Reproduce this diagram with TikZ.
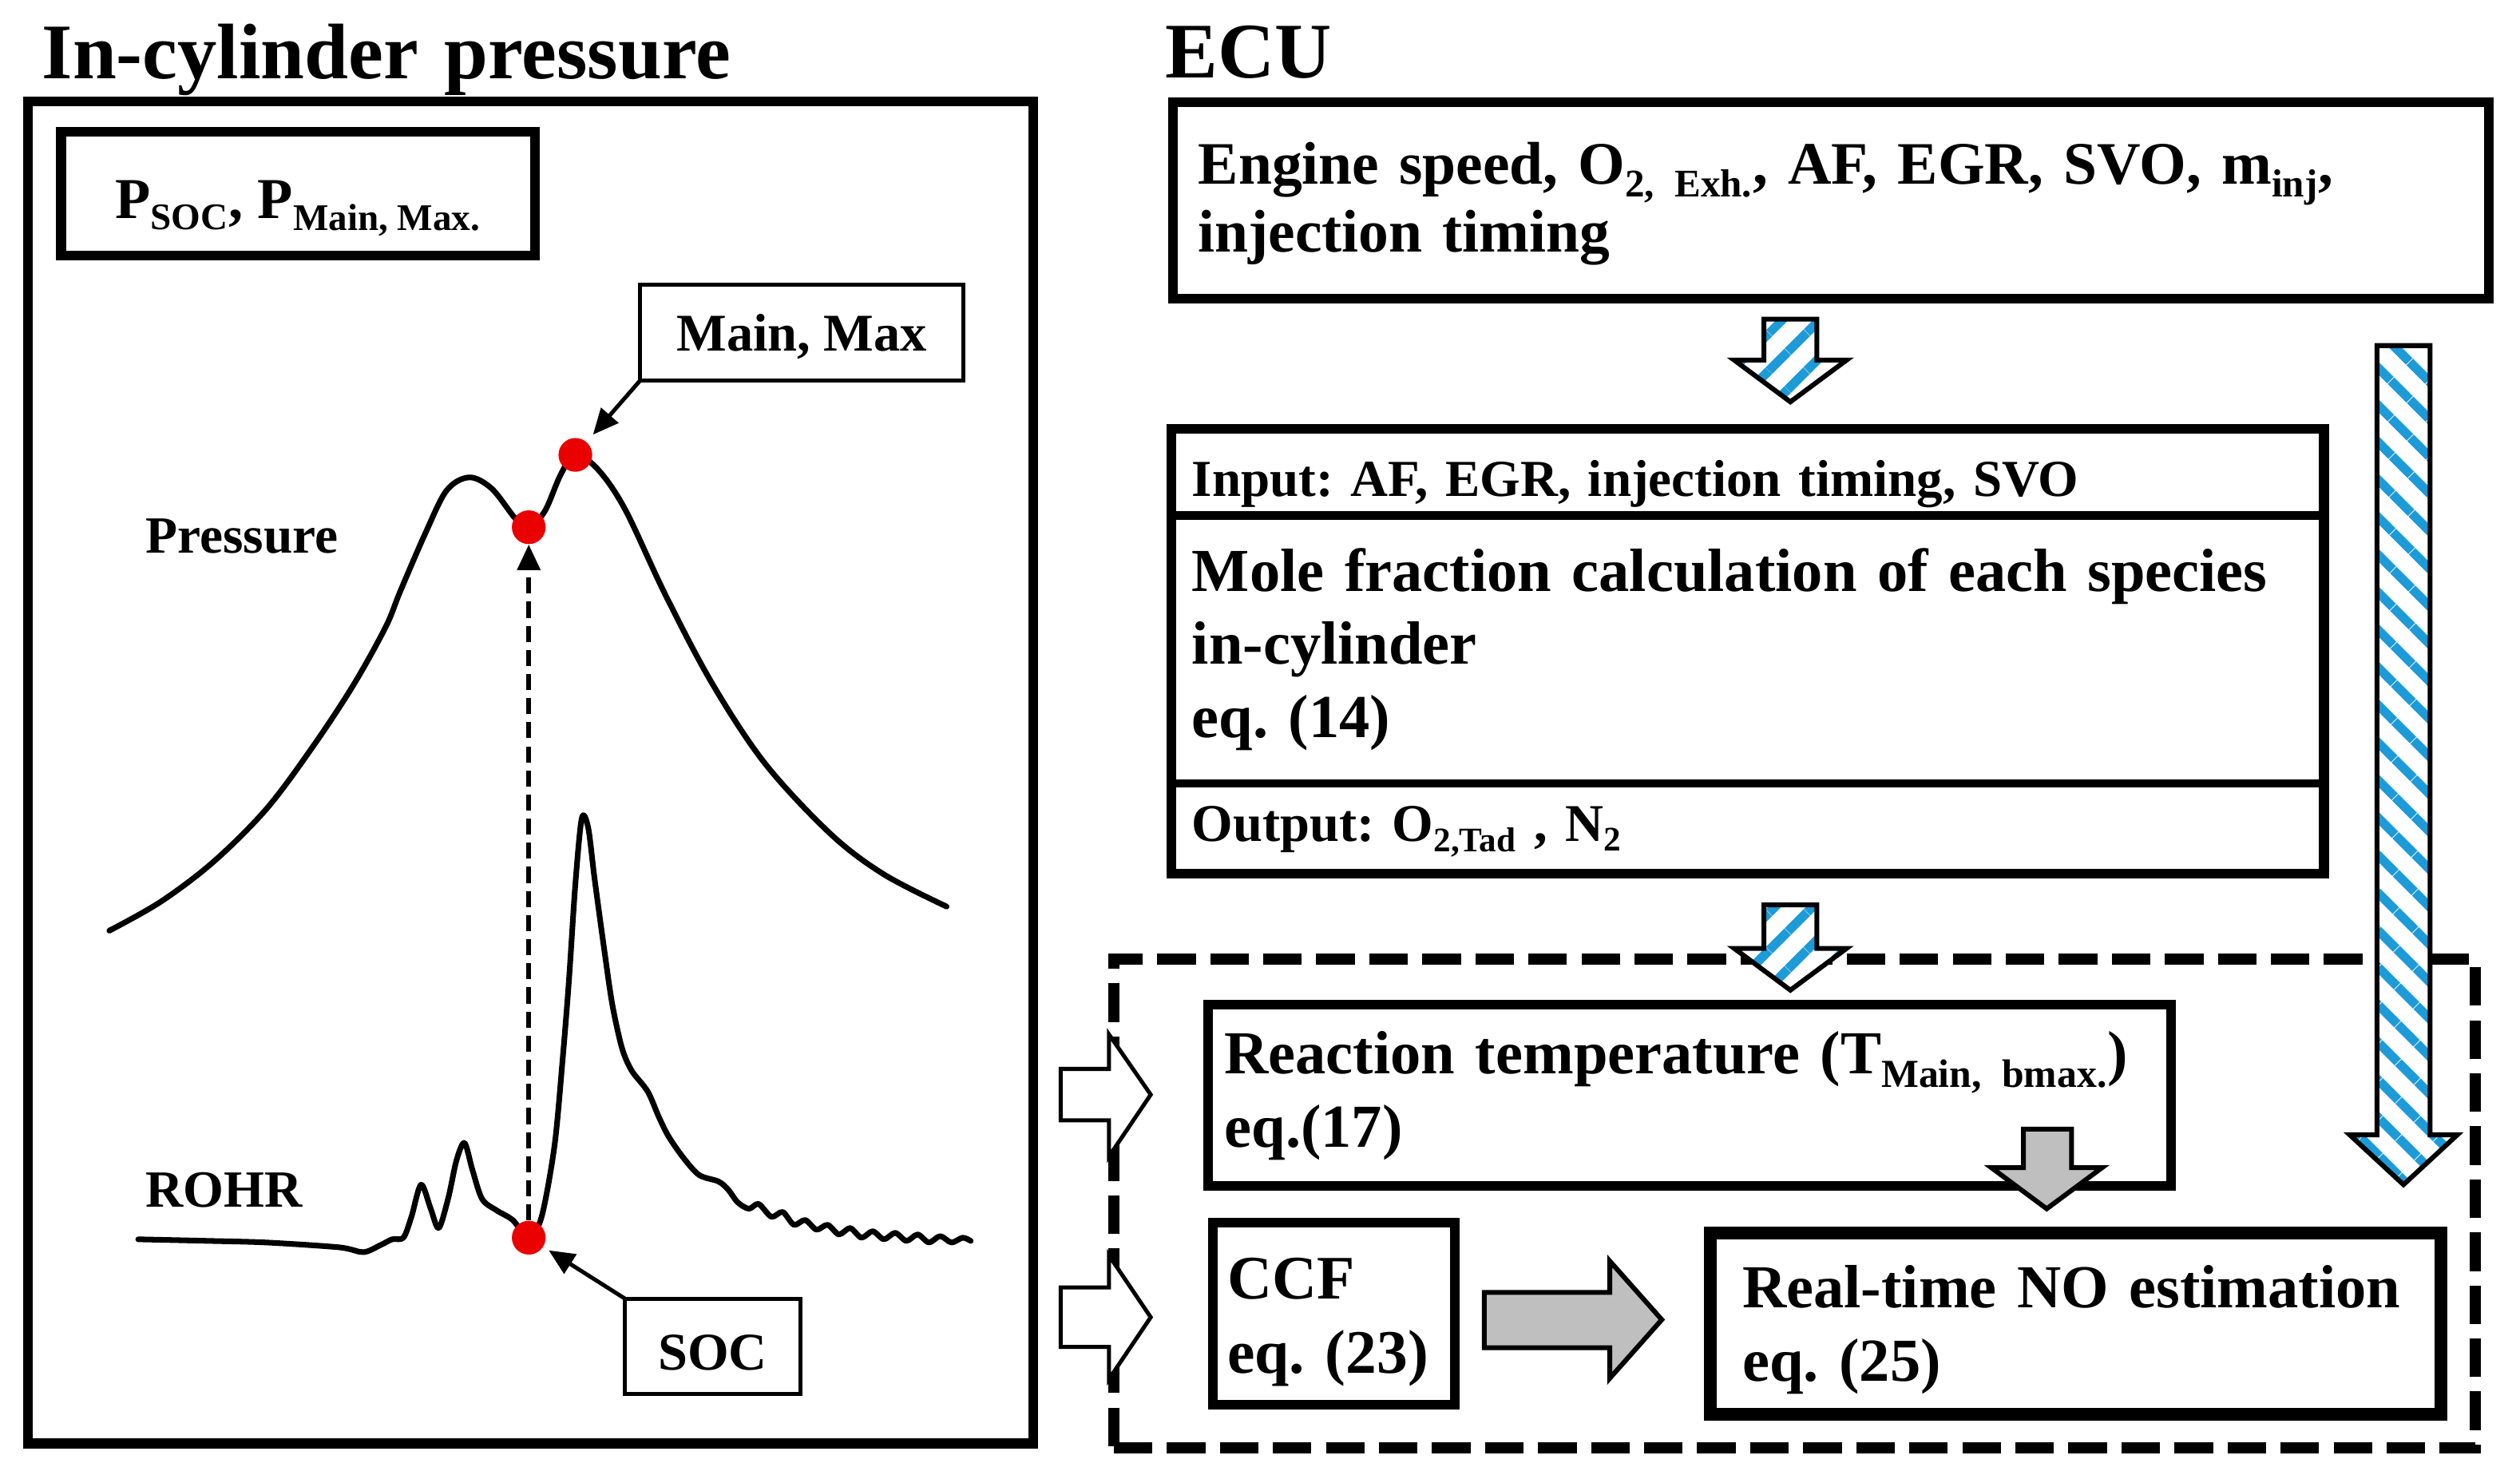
\documentclass[tikz,border=0pt]{standalone}
\usepackage{fontspec}
\setmainfont{Liberation Serif}
\usetikzlibrary{arrows.meta,patterns.meta,fit}
\definecolor{stripeblue}{RGB}{29,155,216}
\definecolor{arrowgrey}{RGB}{191,191,191}
\definecolor{dotred}{RGB}{235,0,0}
\renewcommand\defaultscriptratio{.65}
\frenchspacing

\begin{document}
\begin{tikzpicture}[x=1pt,y=-1pt,
    box/.style={draw,line width=6pt,inner sep=0pt,outer sep=0pt,anchor=north west},
    tagbox/.style={draw,line width=2.5pt,inner sep=0pt,outer sep=0pt,anchor=north west},
    txt/.style={anchor=base west,inner sep=0pt,text width=820pt,align=left},
    curve/.style={line width=3.5pt,line join=round,line cap=round},
    dot/.style={circle,fill=dotred,inner sep=0pt,minimum size=21pt},
    pointer/.style={line width=2.5pt,-{Triangle[length=16pt,width=14pt]}},
    stripearrow/.style={draw,line width=3pt,preaction={fill=white},
      pattern={Lines[angle=#1,distance=17pt,line width=6pt]},pattern color=stripeblue},
    greyarrow/.style={draw,line width=3pt,fill=arrowgrey},
    openarrow/.style={draw,line width=2.5pt,fill=white}]
  \useasboundingbox (0,0) rectangle (1568,920);

  % titles
  \node[txt,font=\fontsize{49}{55}\selectfont\bfseries] (cyltitle) at (26,49) {In-cylinder pressure};
  \node[txt,font=\fontsize{49}{55}\selectfont\bfseries] (ecutitle) at (725,48.5) {ECU};

  % left panel
  \node[box,minimum width=625.6pt,minimum height=834.7pt] (panel) at (17.4,63.3) {};
  \node[box,minimum width=295pt,minimum height=77pt,text height=30.6pt,text depth=0pt,
        font=\fontsize{36}{40}\selectfont\bfseries] (pbox) at (38,82)
        {P\textsubscript{SOC}, P\textsubscript{Main, Max.}};
  \node[tagbox,minimum width=201pt,minimum height=59.6pt,text height=23.2pt,text depth=0pt,
        font=\fontsize{33}{38}\selectfont\bfseries] (mainbox) at (398.4,177) {Main, Max};
  \node[tagbox,minimum width=109pt,minimum height=59pt,text height=29.6pt,text depth=0pt,
        font=\fontsize{33}{38}\selectfont\bfseries] (socbox) at (389,808) {SOC};
  \node[txt,font=\fontsize{32.5}{38}\selectfont\bfseries] (preslbl) at (90.5,344.3) {Pressure};
  \node[txt,font=\fontsize{32.5}{38}\selectfont\bfseries] (rohrlbl) at (90.5,751) {ROHR};

  % pressure and heat release traces
  \draw[curve] plot[smooth,tension=0.55] coordinates {(68,579) (100,561) (133,536)
    (166,503) (195,464) (220,426) (240,390) (249,368) (265,331) (278,305) (292,297)
    (306,304) (321,323) (329,328) (339,318) (349,295) (358,283) (372,292) (389,317)
    (414,370) (443,425) (476,475) (517,519) (550,544) (589,564)};
  \draw[curve] plot[smooth,tension=0.5] coordinates {(86,771) (130,772) (166,773)
    (211,776) (226,779) (236,775) (244,771) (251,770) (256,757) (262,737) (268,752)
    (273,764) (279,745) (284,722) (289,711) (294,728) (300,746) (309,753) (319,759)
    (329,770) (337,757) (345,713) (350,660) (354,610) (358,550) (362,509) (366,515)
    (370,547) (376,591) (381,625) (387,652) (393,666) (403,679) (410,695) (416,707)
    (425,720) (435,731) (447,735) (453,740) (459,748) (466,752) (472,749) (480,757)
    (487,754) (494,762) (501,759) (508,765) (515,762) (522,768) (529,764) (536,770)
    (543,766) (550,771) (557,767) (564,772) (571,768) (578,773) (585,769) (592,773)
    (599,770) (604,772)};

  \node[dot] (pmax) at (358,283) {};
  \node[dot] (psoc) at (329,328) {};
  \node[dot] (soc) at (329,770) {};
  \draw[pointer,shorten >=6pt] (mainbox.south west) -- (pmax);
  \draw[pointer,shorten >=4pt] (socbox.north west) -- (soc);
  \draw[pointer,line width=3pt,dash pattern=on 10pt off 5pt] (soc) -- (psoc);

  % ECU side
  \node[box,minimum width=818.6pt,minimum height=122.5pt] (ecubox) at (730,63.5) {};
  \node[txt,font=\fontsize{37.5}{42.7}\selectfont\bfseries] (ecutext) at (745.4,114.3)
    {Engine speed, O\textsubscript{2, Exh.}, AF, EGR, SVO, m\textsubscript{inj},\\injection timing};

  \node[box,line width=5pt,minimum width=717pt,minimum height=53.7pt] (molein) at (729,267) {};
  \node[box,line width=5pt,minimum width=717pt,minimum height=166.9pt] (molecalc) at (729,320.7) {};
  \node[box,line width=5pt,minimum width=717pt,minimum height=55.9pt] (moleout) at (729,487.6) {};
  \node[box,anchor=center,fit=(molein)(moleout)] (mole) {};
  \node[txt,font=\fontsize{32.3}{38}\selectfont\bfseries] (intext) at (741.5,308.7)
    {Input: AF, EGR, injection timing, SVO};
  \node[txt,font=\fontsize{38}{45.6}\selectfont\bfseries] (calctext) at (741.5,367.7)
    {Mole fraction calculation of each species\\in-cylinder\\eq. (14)};
  \node[txt,font=\fontsize{33}{38}\selectfont\bfseries] (outtext) at (741.5,523.5)
    {Output: O\textsubscript{2,Tad} , N\textsubscript{2}};

  \node[box,line width=7pt,dash pattern=on 24pt off 9pt,minimum width=847pt,
        minimum height=304pt] (nozone) at (693,596.7) {};
  \node[box,minimum width=599.3pt,minimum height=113.2pt] (reacbox) at (751.7,624.8) {};
  \node[txt,font=\fontsize{38}{45.8}\selectfont\bfseries] (reactext) at (761.7,668)
    {Reaction temperature (T\textsubscript{Main, bmax.})\\eq.(17)};
  \node[box,minimum width=150.4pt,minimum height=113.4pt] (ccfbox) at (754.6,760.6) {};
  \node[txt,font=\fontsize{38.5}{46.5}\selectfont\bfseries] (ccftext) at (763.5,808)
    {CCF\\eq. (23)};
  \node[box,line width=8pt,minimum width=455pt,minimum height=113pt] (nobox) at (1064,767) {};
  \node[txt,font=\fontsize{38}{45.7}\selectfont\bfseries] (notext) at (1084,813.7)
    {Real-time NO estimation\\eq. (25)};

  % block arrows
  \draw[stripearrow=45] (1097.5,198.5) -- (1130.5,198.5) -- (1130.5,224) -- (1149,224)
    -- (1114,250) -- (1079,224) -- (1097.5,224) -- cycle;
  \draw[stripearrow=45] (1097.5,563) -- (1130.5,563) -- (1130.5,590) -- (1149,590)
    -- (1114,616) -- (1079,590) -- (1097.5,590) -- cycle;
  \draw[stripearrow=-45] (1479,215) -- (1512,215) -- (1512,706) -- (1529,706)
    -- (1495.5,737) -- (1462,706) -- (1479,706) -- cycle;
  \draw[greyarrow] (1259,702.5) -- (1289,702.5) -- (1289,726.4) -- (1308,726.4)
    -- (1273.5,752) -- (1239,726.4) -- (1259,726.4) -- cycle;
  \draw[greyarrow] (923.5,804) -- (1001.6,804) -- (1001.6,784.5) -- (1034,821)
    -- (1001.6,857.5) -- (1001.6,838.5) -- (923.5,838.5) -- cycle;
  \draw[openarrow] (660,665) -- (690,665) -- (690,643.5) -- (716,681) -- (690,719.5)
    -- (690,697) -- (660,697) -- cycle;
  \draw[openarrow] (660,801) -- (690,801) -- (690,781) -- (716,819.5) -- (690,858)
    -- (690,838) -- (660,838) -- cycle;
\end{tikzpicture}
\end{document}
